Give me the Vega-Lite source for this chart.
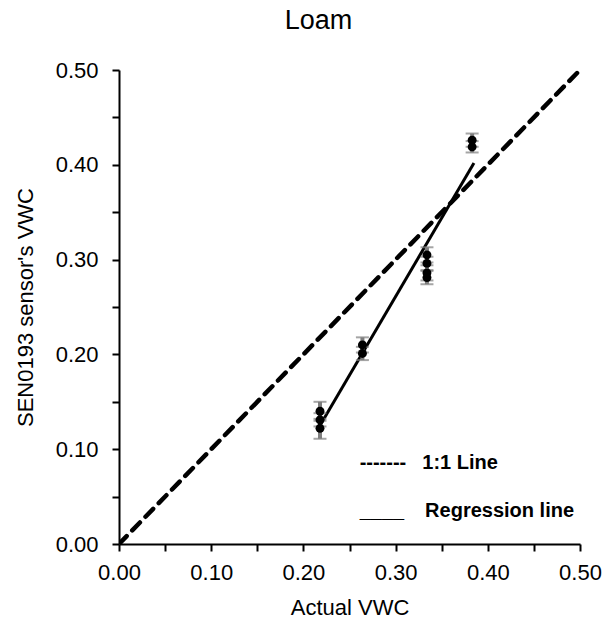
{
  "$schema": "https://vega.github.io/schema/vega-lite/v6.json",
  "autosize": "none",
  "width": 461,
  "height": 474,
  "padding": {"left": 119, "top": 70, "right": 26, "bottom": 86},
  "background": "white",
  "title": {"text": "Loam", "fontSize": 27, "fontWeight": "normal", "font": "Liberation Sans", "color": "black", "offset": 24, "dx": -31},
  "config": {
    "view": {"stroke": null},
    "font": "Liberation Sans",
    "axis": {
      "grid": false,
      "labelFlush": false,
      "labelOverlap": false,
      "domainColor": "black",
      "domainWidth": 2,
      "tickColor": "black",
      "tickWidth": 2,
      "tickSize": 7,
      "labelColor": "black",
      "labelFontSize": 22,
      "labelFont": "Liberation Sans",
      "titleColor": "black",
      "titleFontSize": 22,
      "titleFontWeight": "normal",
      "titleFont": "Liberation Sans"
    }
  },
  "datasets": {
    "points": [
      {"x": 0.218, "y": 0.140, "lo": 0.130, "hi": 0.150},
      {"x": 0.218, "y": 0.131, "lo": 0.124, "hi": 0.138},
      {"x": 0.218, "y": 0.122, "lo": 0.111, "hi": 0.132},
      {"x": 0.264, "y": 0.210, "lo": 0.202, "hi": 0.218},
      {"x": 0.264, "y": 0.201, "lo": 0.194, "hi": 0.208},
      {"x": 0.334, "y": 0.305, "lo": 0.297, "hi": 0.313},
      {"x": 0.334, "y": 0.296, "lo": 0.289, "hi": 0.303},
      {"x": 0.334, "y": 0.286, "lo": 0.278, "hi": 0.294},
      {"x": 0.334, "y": 0.281, "lo": 0.274, "hi": 0.288},
      {"x": 0.383, "y": 0.426, "lo": 0.419, "hi": 0.433},
      {"x": 0.383, "y": 0.419, "lo": 0.413, "hi": 0.425}
    ],
    "oneToOne": [
      {"x": 0.0, "y": 0.0},
      {"x": 0.5, "y": 0.5}
    ],
    "regression": [
      {"x": 0.218, "y": 0.125},
      {"x": 0.385, "y": 0.402}
    ],
    "legend": [
      {"x": 0.261, "y": 0.085, "label": "-------"},
      {"x": 0.329, "y": 0.085, "label": "1:1 Line"},
      {"x": 0.261, "y": 0.035, "label": "____"},
      {"x": 0.332, "y": 0.035, "label": "Regression line"}
    ]
  },
  "encoding": {
    "x": {
      "field": "x", "type": "quantitative",
      "scale": {"domain": [0, 0.5], "nice": false, "zero": false},
      "axis": {
        "title": "Actual VWC",
        "values": [0, 0.05, 0.1, 0.15, 0.2, 0.25, 0.3, 0.35, 0.4, 0.45, 0.5],
        "labelExpr": "round(datum.value * 100) % 10 == 0 ? format(datum.value, '.2f') : ''",
        "labelPadding": 11,
        "titlePadding": 14
      }
    },
    "y": {
      "field": "y", "type": "quantitative",
      "scale": {"domain": [0, 0.5], "nice": false, "zero": false},
      "axis": {
        "title": "SEN0193 sensor's VWC",
        "values": [0, 0.05, 0.1, 0.15, 0.2, 0.25, 0.3, 0.35, 0.4, 0.45, 0.5],
        "labelExpr": "round(datum.value * 100) % 10 == 0 ? format(datum.value, '.2f') : ''",
        "labelPadding": 14,
        "titlePadding": 18
      }
    }
  },
  "layer": [
    {
      "data": {"name": "oneToOne"},
      "mark": {"type": "line", "color": "black", "strokeWidth": 4.5, "strokeDash": [11, 8], "strokeCap": "round", "clip": true},
      "encoding": {}
    },
    {
      "data": {"name": "regression"},
      "mark": {"type": "line", "color": "black", "strokeWidth": 3},
      "encoding": {}
    },
    {
      "data": {"name": "points"},
      "mark": {"type": "rule", "color": "#7f7f7f", "strokeWidth": 4},
      "encoding": {"y": {"field": "lo", "type": "quantitative"}, "y2": {"field": "hi"}}
    },
    {
      "data": {"name": "points"},
      "mark": {"type": "tick", "color": "#7f7f7f", "thickness": 2, "size": 13, "orient": "horizontal"},
      "encoding": {"y": {"field": "lo", "type": "quantitative"}}
    },
    {
      "data": {"name": "points"},
      "mark": {"type": "tick", "color": "#7f7f7f", "thickness": 2, "size": 13, "orient": "horizontal"},
      "encoding": {"y": {"field": "hi", "type": "quantitative"}}
    },
    {
      "data": {"name": "points"},
      "mark": {"type": "point", "shape": "circle", "filled": true, "color": "black", "opacity": 1, "size": 80}
    },
    {
      "data": {"name": "legend"},
      "mark": {"type": "text", "align": "left", "baseline": "middle", "fontSize": 20, "fontWeight": "bold", "color": "black", "font": "Liberation Sans"},
      "encoding": {"text": {"field": "label"}}
    }
  ]
}
